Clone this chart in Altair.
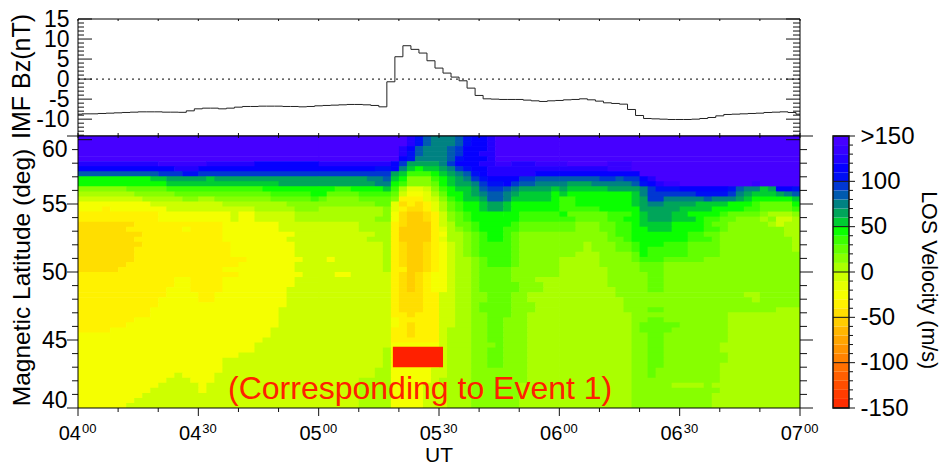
import altair as alt
import pandas as pd

FONT = "Liberation Sans"

# IMF Bz (nT), one value every 2 minutes from 04:00 to 07:00
BZ_VALUES = [
    -8.75, -8.67, -8.67, -8.58, -8.5, -8.42, -8.33, -8.25, -8.17, -8.17,
    -8.17, -8.25, -8.25, -8.29, -7.92, -7.42, -7.25, -7.25, -7.42, -7.25,
    -7.0, -6.83, -6.83, -6.75, -6.75, -6.75, -6.83, -6.83, -6.92, -6.83,
    -6.67, -6.58, -6.5, -6.42, -6.33, -6.33, -6.42, -6.58, -6.92, -0.67,
    5.58, 8.33, 7.42, 6.5, 4.58, 2.75, 1.5, 0.5, -0.42, -2.25,
    -4.08, -4.92, -5.0, -5.08, -5.08, -5.08, -5.25, -5.42, -5.58, -5.42,
    -5.33, -5.17, -5.08, -4.92, -5.17, -5.5, -5.92, -6.08, -6.25, -7.58,
    -9.08, -9.83, -9.92, -10.0, -10.08, -10.08, -10.08, -10.0, -9.83, -9.58,
    -9.17, -8.83, -8.75, -8.67, -8.58, -8.5, -8.33, -8.25, -8.17, -8.33, -8.75,
]

# velocity (m/s) represented by each letter in the run lists below
LEVELS = {
    "a": -55, "b": -45, "c": -35, "d": -25, "e": -15, "f": -5, "g": 5,
    "h": 15, "i": 25, "j": 35, "k": 45, "l": 55, "m": 65, "n": 75,
    "o": 85, "p": 95, "q": 105, "r": 115, "s": 125, "t": 135, "u": 145,
}

# Each row, top to bottom: letter + column where that run ends
LEFT_RUNS = [
    "u30", "u30", "u30", "u30", "u30",
    "s10 t16 s22 r30",
    "r12 s15 r30",
    "o10 p13 q15 p30",
    "k9 l11 m16 l17 m30",
    "k11 l25 m30",
    "h6 i11 j23 k30",
    "g7 h12 i24 j29 k30",
    "f8 g13 h15 g17 h24 i29 j30",
    "d9 f18 g26 h30",
    "d3 c4 d11 f22 g27 h30",
    "c10 d19 f20 d22 f27 g30",
    "c10 d19 f20 d22 f27 g30",
    "b7 c18 d25 f30",
    "b6 c13 d14 c18 d25 f30",
    "b8 c18 d27 f30",
    "b7 c18 d26 f30",
    "b8 c19 d27 f30",
    "b7 c19 d27 f30",
    "b7 c19 d27 f30",
    "b7 c21 d28 f30",
    "b6 c20 d27 f30",
    "b5 c18 d27 f30",
    "c20 d28 f30",
    "c12 d14 c18 d27 f30",
    "c12 d14 c18 d27 f30",
    "c11 d14 c18 d26 f30",
    "c11 d15 c17 d26 f30",
    "c10 d15 c17 d26 f30",
    "c10 d26 f30",
    "c9 d25 f30",
    "c9 d25 f30",
    "c7 d25 f30",
    "c6 d25 f30",
    "c4 d24 f30",
    "d24 f30",
    "d23 f30",
    "d22 f30",
    "d22 f30",
    "d20 f30",
    "d18 f30",
    "d18 f30",
    "d18 f30",
    "d12 f13 d17 f30",
    "d11 f14 d17 f30",
    "d10 f15 d16 f30",
    "d9 f15 d16 f30",
    "d8 f30",
    "d7 f30",
    "d6 f30",
]

MID_RUNS = [
    "u41 s42 q43 o44 n47 o48 q49 r51 s52 u60",
    "u41 s42 q43 o44 n47 o48 q49 r51 s52 u60",
    "u40 s41 r42 o43 n46 o47 p48 r51 s52 u60",
    "u40 s41 q42 o43 n46 o47 p48 r50 s52 u60",
    "u40 r41 q42 n46 o47 q48 r51 s52 u60",
    "s39 r40 p41 m45 n46 p47 r50 s52 t54 s57 t60",
    "r37 q39 r40 n41 l42 k43 l45 m46 n47 p48 q49 r51 s60",
    "p39 m40 l41 j44 k45 l46 m47 n48 o49 q50 r51 s57 r60",
    "m36 n38 o39 l40 k41 h44 j45 k46 l47 m48 n49 p50 q51 r55 p57 o60",
    "m37 n39 k40 j41 h44 i45 k46 l47 m49 n50 p51 q53 r54 p55 o57 n60",
    "k32 j34 k38 l39 j40 g41 e43 f44 h45 j46 k47 l49 m50 o51 p53 o54 n55 m59 l60",
    "k31 i35 j39 i40 f41 d43 e44 g45 i46 k48 l49 m50 n51 o53 n54 m55 l59 k60",
    "i31 h35 i39 h40 c43 e44 f45 h46 j47 k48 l50 m51 o53 n54 l59 k60",
    "h37 i39 e40 b41 c42 b43 c44 e45 g46 i47 j48 k50 l51 m53 l54 k60",
    "g38 h39 e40 c41 b43 c44 e45 g46 i47 j48 k50 l51 m53 l54 k60",
    "g38 h39 d40 b41 a43 b44 c45 f46 h47 i48 j49 k53 k55 j60",
    "g37 h39 d40 b41 a43 b44 c45 f46 h47 i48 j49 k55 j60",
    "f35 g39 c40 b41 a44 c45 f46 g47 i49 j50 k54 j55 i60",
    "f35 g39 c40 a44 c45 e46 g47 h48 i49 j50 k53 j55 i60",
    "f37 g39 c40 a44 c45 d46 g48 h49 i50 j51 k53 j54 i55 h60",
    "f36 g39 c40 a44 c45 e46 g48 h49 i50 j51 k53 j54 i55 h60",
    "f38 g39 c40 b41 a43 b44 c45 d46 f47 g48 h49 i50 j54 i55 h60",
    "f38 g39 c40 b41 a43 b44 c45 d46 f47 g48 h49 i50 j54 i55 h60",
    "f38 g39 c40 b41 a43 b44 c45 d46 f47 g48 h49 i50 j54 i55 h60",
    "f31 d32 f38 g39 c40 b41 a43 b44 c45 d46 f47 g49 h50 i51 j54 i55 h60",
    "f38 g39 c40 b41 a43 b44 c45 d46 f47 g49 h50 i51 j54 i55 h60",
    "f38 g39 c41 a43 b44 c45 d46 f47 g49 h50 i54 h60",
    "f32 d34 f39 c40 b41 a42 b43 c44 d46 f47 g49 h50 i54 h60",
    "f39 c40 b41 a42 b43 c44 d46 f47 g49 h50 i54 h57 g60",
    "f39 c40 b41 a42 b43 c44 d46 f47 g49 h50 i55 h58 g60",
    "f39 c40 b41 a42 b43 c44 d46 f47 g49 h50 i55 h58 g60",
    "f39 c40 b43 c45 f47 g49 h51 i54 h56 g60",
    "f39 c40 b43 c45 f47 g49 h51 i54 h56 g60",
    "f39 c40 b43 c45 f47 g49 h50 i54 h57 g60",
    "f39 c40 b43 c45 f47 g49 h50 i54 h57 g60",
    "f39 c41 b42 c45 f47 g49 h51 i54 h56 g60",
    "f39 d40 c45 f47 g49 h51 i53 h56 g60",
    "f39 d40 c41 b42 c45 f47 g49 h51 i53 h56 g60",
    "f39 c41 b42 c45 f46 g49 h51 i53 h56 g60",
    "f39 c41 b42 c45 f46 g49 h51 i53 h56 g60",
    "f39 c45 f46 g49 h51 i53 h56 g60",
    "f39 d45 f46 g49 h52 i53 h56 g60",
    "f38 g39 d45 f46 g49 h51 i53 h56 g60",
    "f38 g39 d45 f46 g49 h51 i53 h56 g60",
    "f38 g39 d45 f46 g49 h51 i53 h56 g60",
    "f38 g39 d45 f46 g49 h51 i53 h56 g60",
    "f37 g39 d44 f46 g49 h56 g60",
    "f37 g39 d44 f46 g49 h56 g60",
    "f35 g39 d44 f45 g49 h56 g60",
    "f35 g39 d43 f46 g49 h55 g60",
    "f35 g39 d43 f46 g49 h55 g60",
    "f35 g39 d43 f46 g49 h55 g60",
    "f35 g39 d43 f46 g49 h55 g60",
    "f35 g39 d43 f46 g49 h55 g60",
]

RIGHT_RUNS = [
    "u90", "u90", "u90", "u90", "u90",
    "t61 u66 t69 u90",
    "s66 t69 u90",
    "r70 u90",
    "o65 p67 o68 p70 r71 s72 u90",
    "n61 m64 n69 o70 q71 r72 s73 t75 u84 t85 u90",
    "m61 l66 m70 n71 p72 q75 r81 q82 o83 n85 l86 m87 r89 q90",
    "l61 k69 l70 n71 p77 q81 p82 n83 m84 l87 m88 n89 o90",
    "j62 k69 l70 m71 p73 n78 o79 n82 m83 l84 k89 l90",
    "j62 k69 l70 m71 n73 m77 l81 k84 j85 i89 k90",
    "j65 k70 m75 l79 k83 j85 i89 j90",
    "k61 i66 j69 k70 l71 m74 l76 k80 j81 i85 h86 g89 h90",
    "j62 i66 j68 k70 l71 m74 l77 k78 j80 i82 h85 g86 h87 f89 g90",
    "i62 h65 i67 j69 k70 l74 k78 j79 i81 h86 g87 f88 g90",
    "i62 h65 i67 j69 k71 l74 k78 j80 i81 h88 g90",
    "h66 i67 j69 k76 j78 i80 h88 g90",
    "h66 i68 j69 k76 j79 i80 h89 g90",
    "h63 g64 h67 i69 j70 k73 j76 i80 h89 g90",
    "h63 g64 h67 i69 j70 k71 j76 i80 h89 g90",
    "h62 g65 h69 i70 k71 j76 i80 h90",
    "g65 h69 i70 j73 i78 h90",
    "g65 h70 i73 h90",
    "g66 h70 i73 h90",
    "g66 h71 i73 h90",
    "g66 h71 i73 h90",
    "g66 h71 i73 h90",
    "g67 h71 i73 h90",
    "g67 h83 g85 h90",
    "g68 h84 g85 h90",
    "g68 h90",
    "g68 h71 i73 h87 g90",
    "g69 h81 g90",
    "g69 h71 i73 h81 g90",
    "g69 h70 i75 h81 g90",
    "g69 h70 i74 h81 g90",
    "g69 h71 i73 h81 g90",
    "g69 h71 i73 h81 g90",
    "g69 h71 i73 h80 g90",
    "g69 h71 i73 h80 g90",
    "g69 h71 i73 h81 g90",
    "g69 h71 i73 h81 g90",
    "g69 h71 i73 h80 g90",
    "g69 h71 i72 h80 g90",
    "g69 h71 i72 h80 g90",
    "g69 h80 g90",
    "g69 h74 g78 h79 g90",
    "g69 h80 g90",
    "g69 h79 g90",
    "g69 h79 g90",
    "g69 h79 g90",
]

# Colour bar: 30 bands of 10 m/s, bottom to top
BAND_COLOURS = [
    "#FF2D00", "#FF3C00", "#FF4E00", "#FF5F00", "#FF7000", "#FF8200",
    "#FF9400", "#FFA500", "#FFB600", "#FFCD00", "#FFDE00", "#FFF200",
    "#F5FF00", "#E4FF00", "#CDFF00", "#AAFF00", "#87FF00", "#64FF00",
    "#3CFF00", "#0AFF00", "#00CD32", "#00A55A", "#008282", "#005AAF",
    "#0037D2", "#000FF5", "#0500FF", "#2300FF", "#3700FF", "#4600FF",
]
BAND_EDGES = [-150 + 10 * i for i in range(31)]

TIME_MAJOR = [240, 270, 300, 330, 360, 390, 420]
TIME_MINOR = [250, 260, 280, 290, 310, 320, 340, 350, 370, 380, 400, 410]
HOUR_TEXT = ["04", "04", "05", "05", "06", "06", "07"]
MINUTE_TEXT = ["00", "30", "00", "30", "00", "30", "00"]

BZ_MAJOR = [-10, -5, 0, 5, 10, 15]
BZ_MINOR = [v for v in range(-14, 15) if v % 5 != 0]
LAT_MAJOR = [40, 45, 50, 55, 60]
LAT_MINOR = [v for v in range(41, 60) if v % 5 != 0]
CBAR_MAJOR = [-150, -100, -50, 0, 50, 100, 150]
CBAR_MINOR = [v for v in range(-140, 150, 10) if v % 50 != 0]

EVENT_BAR = {"t1": 318.5, "t2": 331.0, "lat1": 43.0, "lat2": 44.5}
NOTE = {"t": 325.3, "lat": 40.64, "text": "(Corresponding to Event 1)"}
BZ_HIDDEN_TICK_LAT = 59.73  # the -15 nT tick runs on over the lower panel

W, H_TOP, H_BOT = 722, 117, 272
INK = "#111111"

rows = []
n_rows = len(LEFT_RUNS)
lat_step = 20.0 / n_rows
for r in range(n_rows):
    start = 0
    for tok in (LEFT_RUNS[r] + " " + MID_RUNS[r] + " " + RIGHT_RUNS[r]).split():
        end = int(tok[1:])
        rows.append({
            "t1": 240 + 2 * start,
            "t2": 240 + 2 * end + (0.15 if end < 90 else 0),
            "lat1": 60 - r * lat_step,
            "lat2": 60 - (r + 1) * lat_step - (0.05 if r < n_rows - 1 else 0),
            "v": LEVELS[tok[0]],
        })
        start = end
heat_df = pd.DataFrame(rows)

time_scale = alt.Scale(domain=[240, 420], zero=False, nice=False)
bz_scale = alt.Scale(domain=[-14.2, 15], zero=False, nice=False)
lat_scale = alt.Scale(domain=[40, 60], zero=False, nice=False)
colour_scale = alt.Scale(type="threshold", domain=BAND_EDGES[1:-1], range=BAND_COLOURS)
cbar_scale = alt.Scale(domain=[-150, 150 + 300 * H_TOP / H_BOT], zero=False, nice=False)

bz_axis = alt.Axis(
    title="IMF Bz(nT)", titleFont=FONT, titleFontSize=25, titleFontWeight="normal",
    titleColor="#000000", titleX=-44, titleY=57,
    values=BZ_MAJOR, labelExpr="'' + datum.value", labelFont=FONT, labelFontSize=23,
    labelColor="#000000", labelPadding=9, labelOverlap=False, ticks=False, domain=False, grid=False,
    minExtent=56, maxExtent=56)
lat_axis = alt.Axis(
    title="Magnetic Latitude (deg)", titleFont=FONT, titleFontSize=24.5, titleFontWeight="normal",
    titleColor="#000000", titleX=-44, titleY=141,
    values=LAT_MAJOR, labelFont=FONT, labelFontSize=23, labelColor="#000000", labelPadding=11,
    labelOverlap=False,
    labelOffset=alt.expr("datum.value == 60 ? 13 : datum.value == 40 ? -8 : 0"),
    ticks=False, domain=False, grid=False, minExtent=56, maxExtent=56)
cbar_axis = alt.Axis(
    orient="right", title=None, values=CBAR_MAJOR,
    labelExpr="datum.value == 150 ? '>150' : '' + datum.value",
    labelFont=FONT, labelFontSize=24, labelColor="#000000", labelPadding=11, labelOverlap=False,
    ticks=False, domain=False, grid=False)

T = lambda f="t": alt.X(f"{f}:Q", scale=time_scale, axis=None)
BZ = lambda: alt.Y("v:Q", scale=bz_scale, axis=bz_axis)
LAT = lambda f="v": alt.Y(f"{f}:Q", scale=lat_scale, axis=lat_axis)
CB = lambda f="v": alt.Y(f"{f}:Q", scale=cbar_scale, axis=cbar_axis)


def h_ticks(values, y, x0, x1):
    return alt.Chart(pd.DataFrame({"v": values})).mark_rule(color=INK, strokeWidth=1).encode(
        y=y, x=alt.value(x0), x2=alt.value(x1))


def v_ticks(values, y0, y1):
    return alt.Chart(pd.DataFrame({"t": values})).mark_rule(color=INK, strokeWidth=1).encode(
        x=T(), y=alt.value(y0), y2=alt.value(y1))


def border(height):
    return alt.Chart(pd.DataFrame({"a": [0]})).mark_rect(
        fill=None, stroke="#000000", strokeWidth=1).encode(
        x=alt.value(0), x2=alt.value(W), y=alt.value(0), y2=alt.value(height))


# ---------- upper panel ----------
bz_df = pd.DataFrame({"t": [240 + 2 * i for i in range(len(BZ_VALUES))], "v": BZ_VALUES})
bz_line = alt.Chart(bz_df).mark_line(interpolate="step", color="#222222", strokeWidth=1).encode(
    x=T(), y=BZ())
zero_line = alt.Chart(pd.DataFrame({"v": [0]})).mark_rule(
    color="#000000", strokeWidth=1, strokeDash=[2, 4]).encode(
    y=BZ(), x=alt.value(0), x2=alt.value(W))

top = alt.layer(
    zero_line, bz_line,
    h_ticks(BZ_MAJOR, BZ(), 0, 14), h_ticks(BZ_MINOR, BZ(), 0, 6),
    h_ticks(BZ_MAJOR, BZ(), W - 14, W), h_ticks(BZ_MINOR, BZ(), W - 7, W),
    v_ticks(TIME_MAJOR + TIME_MINOR, 0, 2), v_ticks(TIME_MAJOR + TIME_MINOR, H_TOP - 3, H_TOP),
    border(H_TOP),
).properties(width=W, height=H_TOP)

# ---------- lower panel ----------
heat = alt.Chart(heat_df).mark_rect(clip=True, strokeWidth=0).encode(
    x=T("t1"), x2="t2:Q",
    y=LAT("lat1"),
    y2="lat2:Q",
    color=alt.Color("v:Q", scale=colour_scale, legend=None),
)
event_bar = alt.Chart(pd.DataFrame([EVENT_BAR])).mark_rect(color="#FF2000").encode(
    x=T("t1"), x2="t2:Q", y=LAT("lat1"), y2="lat2:Q")
note = alt.Chart(pd.DataFrame([NOTE])).mark_text(
    font=FONT, fontSize=32, color="#FF2000", align="center", baseline="alphabetic").encode(
    x=T(), y=LAT("lat"), text="text:N")

labels_df = pd.DataFrame({"t": TIME_MAJOR, "hour": HOUR_TEXT, "minute": MINUTE_TEXT})
hour_text = alt.Chart(labels_df).mark_text(
    font=FONT, fontSize=20, color="#000000", align="right", baseline="alphabetic", dx=3).encode(
    x=T(), y=alt.value(H_BOT + 32), text="hour:N")
minute_text = alt.Chart(labels_df).mark_text(
    font=FONT, fontSize=13, color="#000000", align="left", baseline="alphabetic", dx=4).encode(
    x=T(), y=alt.value(H_BOT + 25), text="minute:N")
ut_text = alt.Chart(pd.DataFrame({"t": [330], "s": ["UT"]})).mark_text(
    font=FONT, fontSize=21, color="#000000", align="center", baseline="alphabetic").encode(
    x=T(), y=alt.value(H_BOT + 54), text="s:N")

bottom = alt.layer(
    heat, event_bar, note,
    h_ticks(LAT_MAJOR, LAT(), -11, 0), h_ticks(LAT_MINOR, LAT(), -6, 0),
    h_ticks(LAT_MAJOR, LAT(), W, W + 13), h_ticks(LAT_MINOR, LAT(), W, W + 7),
    h_ticks([BZ_HIDDEN_TICK_LAT], LAT(), 0, 14), h_ticks([BZ_HIDDEN_TICK_LAT], LAT(), W - 14, W),
    v_ticks(TIME_MAJOR, H_BOT, H_BOT + 8), v_ticks(TIME_MINOR, H_BOT, H_BOT + 4),
    v_ticks(TIME_MAJOR + TIME_MINOR, 0, 2),
    hour_text, minute_text, ut_text,
    border(H_BOT),
).properties(width=W, height=H_BOT)

# ---------- colour bar ----------
band_df = pd.DataFrame({"v1": BAND_EDGES[:-1], "v2": BAND_EDGES[1:], "m": [e + 5 for e in BAND_EDGES[:-1]]})
bands = alt.Chart(band_df).mark_rect(strokeWidth=0).encode(
    x=alt.value(0), x2=alt.value(16),
    y=CB("v1"),
    y2="v2:Q",
    color=alt.Color("m:Q", scale=colour_scale, legend=None),
)
cbar_outline = alt.Chart(pd.DataFrame({"v1": [-150], "v2": [150]})).mark_rect(
    fill=None, stroke=INK, strokeWidth=1.5).encode(
    x=alt.value(0), x2=alt.value(16), y=CB("v1"), y2="v2:Q")
cbar_title = alt.Chart(pd.DataFrame({"v": [-9], "s": ["LOS Velocity (m/s)"]})).mark_text(
    font=FONT, fontSize=21.5, color="#000000", align="center", baseline="middle", angle=90).encode(
    x=alt.value(95), y=CB(), text="s:N")
colourbar = alt.layer(
    bands,
    h_ticks(CBAR_MAJOR, CB(), 0, 22), h_ticks(CBAR_MINOR, CB(), 16, 20),
    cbar_outline, cbar_title,
).properties(width=16, height=H_TOP + H_BOT)

chart = alt.hconcat(
    alt.vconcat(top, bottom, spacing=0, bounds="flush"),
    colourbar,
    spacing=13,
).properties(padding={"left": 0, "top": 0, "right": 0, "bottom": 0}, background="white"
).configure_view(stroke=None)

chart.save("out.html", embed_options={"renderer": "svg", "actions": False})
